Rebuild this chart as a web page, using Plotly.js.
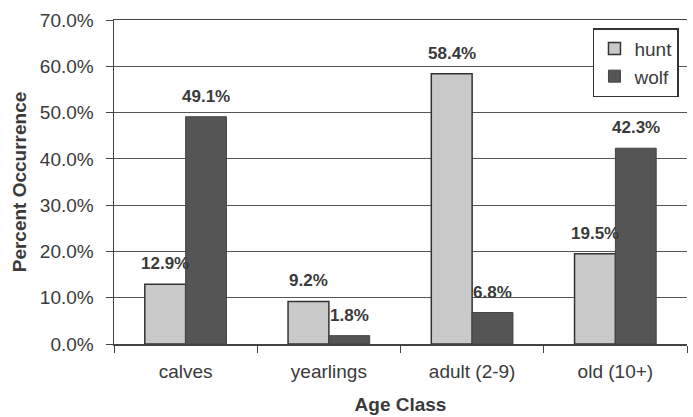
<!DOCTYPE html>
<html>
<head>
<meta charset="utf-8">
<script src="https://cdn.plot.ly/plotly-3.0.1.min.js"></script>
<style>html,body{margin:0;padding:0;background:#fff;}#chart{width:693px;height:417px;}</style>
</head>
<body>
<div id="chart"></div>
<script>
var categories = ["calves", "yearlings", "adult (2-9)", "old (10+)"];
var huntValues = [12.9, 9.2, 58.4, 19.5];
var wolfValues = [49.1, 1.8, 6.8, 42.3];
var yTickVals = [0, 10, 20, 30, 40, 50, 60, 70];
var yTickText = ["0.0%", "10.0%", "20.0%", "30.0%", "40.0%", "50.0%", "60.0%", "70.0%"];

var FONT = "Liberation Sans, Arial, sans-serif";
var TXT = "#3a3a3a";
var bargap = 0.43;
var plotW = 693 - 114 - 6;
var barW = plotW / categories.length * (1 - bargap) / 2;

var traces = [
  {type: "bar", name: "hunt", x: categories, y: huntValues,
   marker: {color: "#c9c9c9", line: {color: "#333", width: 1.5}}, hoverinfo: "none"},
  {type: "bar", name: "wolf", x: categories, y: wolfValues,
   marker: {color: "#555555", line: {color: "#444", width: 1}}, hoverinfo: "none"}
];

var annotations = [];
[huntValues, wolfValues].forEach(function (arr, si) {
  arr.forEach(function (v, i) {
    annotations.push({
      x: categories[i], y: v, xref: "x", yref: "y",
      text: v.toFixed(1) + "%", showarrow: false,
      xanchor: "center", yanchor: "bottom",
      xshift: (si === 0 ? -1 : 1) * barW / 2, yshift: 9,
      font: {family: FONT, size: 17, color: TXT, weight: "bold"}
    });
  });
});

var layout = {
  width: 693, height: 417,
  margin: {l: 114, r: 6, t: 20, b: 73, pad: 0},
  paper_bgcolor: "#fff", plot_bgcolor: "#fff",
  barmode: "group", bargap: bargap, bargroupgap: 0,
  font: {family: FONT, color: TXT, size: 19},
  showlegend: true,
  legend: {x: 0.986, y: 0.975, xanchor: "right", yanchor: "top",
           bgcolor: "#fff", bordercolor: "#333", borderwidth: 1.5,
           font: {family: FONT, size: 19, color: TXT}, itemwidth: 30,
           tracegroupgap: 0},
  xaxis: {type: "category", tickson: "boundaries", ticks: "outside", ticklen: 7,
          tickcolor: "#444", showline: true, linecolor: "#444", linewidth: 1.5,
          mirror: true, showgrid: false, ticklabelstandoff: 10,
          tickfont: {family: FONT, size: 19, color: TXT},
          title: {text: "Age Class", standoff: 16,
                  font: {family: FONT, size: 19, color: TXT, weight: "bold"}}},
  yaxis: {range: [0, 70], tickvals: yTickVals, ticktext: yTickText,
          ticks: "outside", ticklen: 7, tickcolor: "#444",
          showline: true, linecolor: "#444", linewidth: 1.5,
          showgrid: true, gridcolor: "#555", gridwidth: 1, zeroline: false,
          ticklabelstandoff: 8,
          tickfont: {family: FONT, size: 19, color: TXT},
          title: {text: "Percent Occurrence", standoff: 8,
                  font: {family: FONT, size: 19, color: TXT, weight: "bold"}}},
  annotations: annotations
};

Plotly.newPlot("chart", traces, layout, {displayModeBar: false, staticPlot: true});
</script>
</body>
</html>
